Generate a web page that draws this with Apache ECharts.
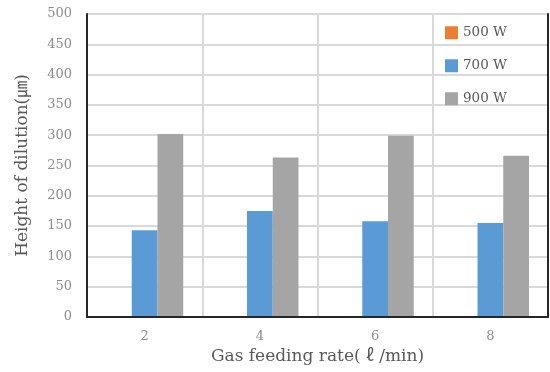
<!DOCTYPE html>
<html><head><meta charset="utf-8">
<script src="https://cdn.jsdelivr.net/npm/echarts@6/dist/echarts.min.js"></script>
<style>html,body{margin:0;padding:0;background:#fff}#c{width:550px;height:372px}</style>
</head><body><div id="c"></div>
<script>
var categories = ['2', '4', '6', '8'];
var seriesNames = ['500 W', '700 W', '900 W'];
var values500 = [0, 0, 0, 0];
var values700 = [143, 175, 158, 155];
var values900 = [302, 263, 299, 266];
var yTicks = { min: 0, max: 500, interval: 50 };

var FONT = "'DejaVu Serif', 'Noto Sans CJK JP', serif";
var colors = ['#ED7D31', '#5B9BD5', '#A5A5A5'];
var BORDER = { show: true, lineStyle: { color: '#262626', width: 2 } };
var chart = echarts.init(document.getElementById('c'), null, { renderer: 'canvas' });
var dataSets = [values500, values700, values900];
chart.setOption({
  animation: false,
  color: colors,
  textStyle: { fontFamily: FONT },
  grid: { left: 87, right: 2, top: 14, bottom: 55 },
  legend: {
    orient: 'vertical', left: 440, top: 21, itemWidth: 13, itemHeight: 13, itemGap: 19.5,
    icon: 'rect',
    textStyle: { fontFamily: FONT, fontSize: 13.5, color: '#595959' },
    data: seriesNames
  },
  xAxis: [{
    type: 'category', data: categories,
    name: 'Gas feeding rate( ℓ /min)', nameLocation: 'middle', nameGap: 31,
    nameTextStyle: { fontFamily: FONT, fontSize: 17, color: '#595959' },
    axisLine: BORDER, axisTick: { show: false },
    axisLabel: { fontFamily: FONT, fontSize: 13, color: '#8c8c8c', margin: 13 },
    splitLine: { show: true, lineStyle: { color: '#d9d9d9', width: 2 } }
  }, {
    type: 'category', data: categories, position: 'top',
    axisLine: BORDER, axisTick: { show: false }, axisLabel: { show: false }, splitLine: { show: false }, z: 5
  }],
  yAxis: [{
    type: 'value', min: yTicks.min, max: yTicks.max, interval: yTicks.interval,
    name: 'Height of dilution(㎛)', nameLocation: 'middle', nameGap: 56,
    nameTextStyle: { fontFamily: FONT, fontSize: 17, color: '#595959' },
    axisLine: BORDER, axisTick: { show: false },
    axisLabel: { fontFamily: FONT, fontSize: 13, color: '#8c8c8c', margin: 15 },
    splitLine: { show: true, lineStyle: { color: '#d9d9d9', width: 2 } }
  }, {
    type: 'value', min: yTicks.min, max: yTicks.max, interval: yTicks.interval, position: 'right',
    axisLine: BORDER, axisTick: { show: false }, axisLabel: { show: false }, splitLine: { show: false }, z: 5
  }],
  series: seriesNames.map(function (n, i) {
    return { name: n, type: 'bar', data: dataSets[i], barGap: '0%', barCategoryGap: '33%' };
  })
});
</script></body></html>
